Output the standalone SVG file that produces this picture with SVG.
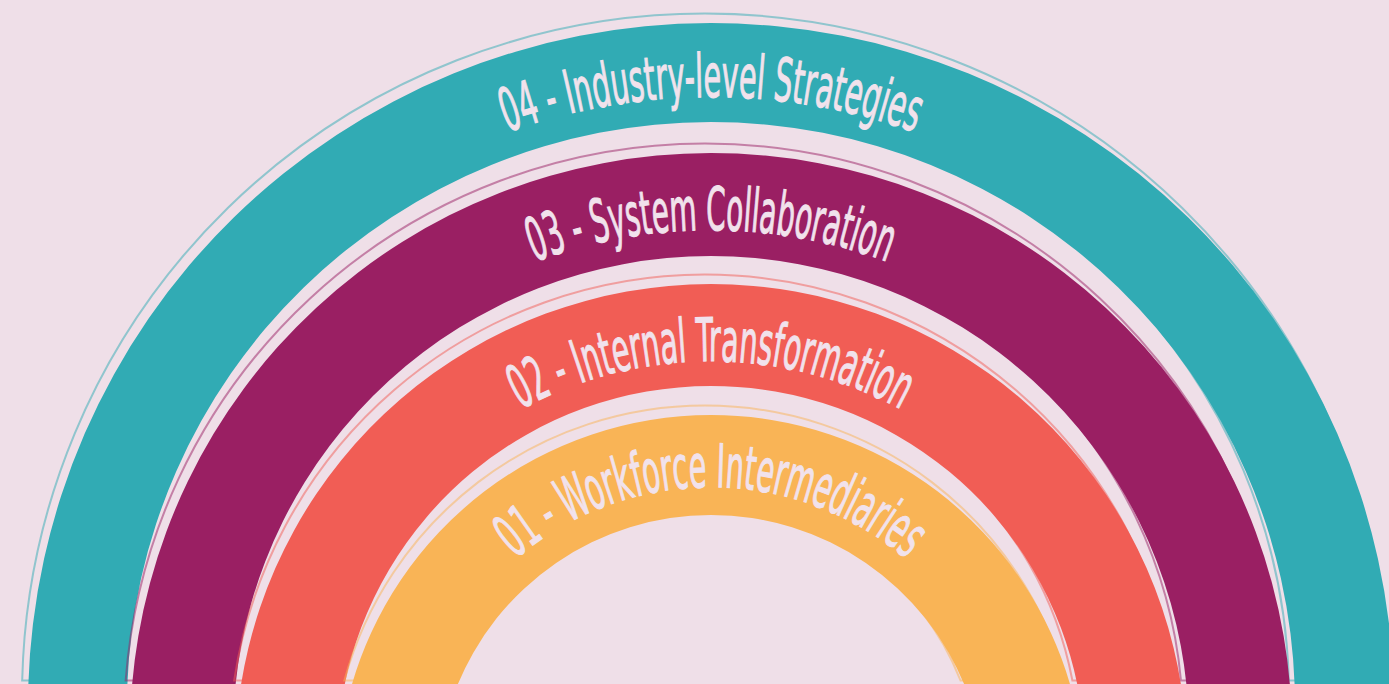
<svg xmlns="http://www.w3.org/2000/svg" xmlns:xlink="http://www.w3.org/1999/xlink" width="1389" height="684" viewBox="0 0 1389 684">
  <style>
    .bg { fill: #efdfe8; }
    .ring-outline { fill: none; stroke-width: 2; stroke-opacity: 0.5; }
    .label { font-family: "Liberation Sans Narrow", "DejaVu Sans Condensed", "Liberation Sans", sans-serif; font-size: 60px; font-weight: normal; fill: #f1e2ec; stroke: #f1e2ec; stroke-width: 1.1; }
    .teal { fill: #31abb4; }
    .plum { fill: #9a1f63; }
    .coral { fill: #f15d55; }
    .amber { fill: #f9b456; }
  </style>
  <defs>
    <!-- baseline circles for the ring labels, each a half circle over the top -->
    <path id="arc04" d="M 102,706 A 609 609 0 0 1 1320,706"/>
    <path id="arc03" d="M 207,734 A 504 504 0 0 1 1215,734"/>
    <path id="arc02" d="M 312,760 A 399 399 0 0 1 1110,760"/>
    <path id="arc01" d="M 409,789 A 302 302 0 0 1 1013,789"/>
  </defs>

  <rect class="bg" x="0" y="0" width="1389" height="684"/>

  <g id="ring-04">
    <path class="ring-outline" stroke="#31abb4" transform="translate(-6,-9.5)" d="M 28.19,690 A 683 683 0 0 1 1393.81,690 L 1294.78,690 A 584 584 0 0 0 127.22,690 Z"/>
    <path class="teal" d="M 28.19,690 A 683 683 0 0 1 1393.81,690 L 1294.78,690 A 584 584 0 0 0 127.22,690 Z"/>
    <text class="label" text-anchor="middle"><textPath xlink:href="#arc04" href="#arc04" startOffset="50%" textLength="415" lengthAdjust="spacingAndGlyphs">04 - Industry-level Strategies</textPath></text>
  </g>

  <g id="ring-03">
    <path class="ring-outline" stroke="#9a1f63" transform="translate(-6,-9.5)" d="M 131.67,690 A 581 581 0 0 1 1290.33,690 L 1186.97,690 A 478 478 0 0 0 235.03,690 Z"/>
    <path class="plum" d="M 131.67,690 A 581 581 0 0 1 1290.33,690 L 1186.97,690 A 478 478 0 0 0 235.03,690 Z"/>
    <text class="label" text-anchor="middle"><textPath xlink:href="#arc03" href="#arc03" startOffset="50%" textLength="360" lengthAdjust="spacingAndGlyphs">03 - System Collaboration</textPath></text>
  </g>

  <g id="ring-02">
    <path class="ring-outline" stroke="#f15d55" transform="translate(-6,-9.5)" d="M 240.18,690 A 476 476 0 0 1 1181.82,690 L 1078.39,690 A 374 374 0 0 0 343.61,690 Z"/>
    <path class="coral" d="M 240.18,690 A 476 476 0 0 1 1181.82,690 L 1078.39,690 A 374 374 0 0 0 343.61,690 Z"/>
    <text class="label" text-anchor="middle"><textPath xlink:href="#arc02" href="#arc02" startOffset="50%" textLength="396" lengthAdjust="spacingAndGlyphs">02 - Internal Transformation</textPath></text>
  </g>

  <g id="ring-01">
    <path class="ring-outline" stroke="#f9b456" transform="translate(-6,-9.5)" d="M 350.34,690 A 374 374 0 0 1 1071.66,690 L 966.49,690 A 274 274 0 0 0 455.51,690 Z"/>
    <path class="amber" d="M 350.34,690 A 374 374 0 0 1 1071.66,690 L 966.49,690 A 274 274 0 0 0 455.51,690 Z"/>
    <text class="label" text-anchor="middle"><textPath xlink:href="#arc01" href="#arc01" startOffset="50%" textLength="425" lengthAdjust="spacingAndGlyphs">01 - Workforce Intermediaries</textPath></text>
  </g>
</svg>
